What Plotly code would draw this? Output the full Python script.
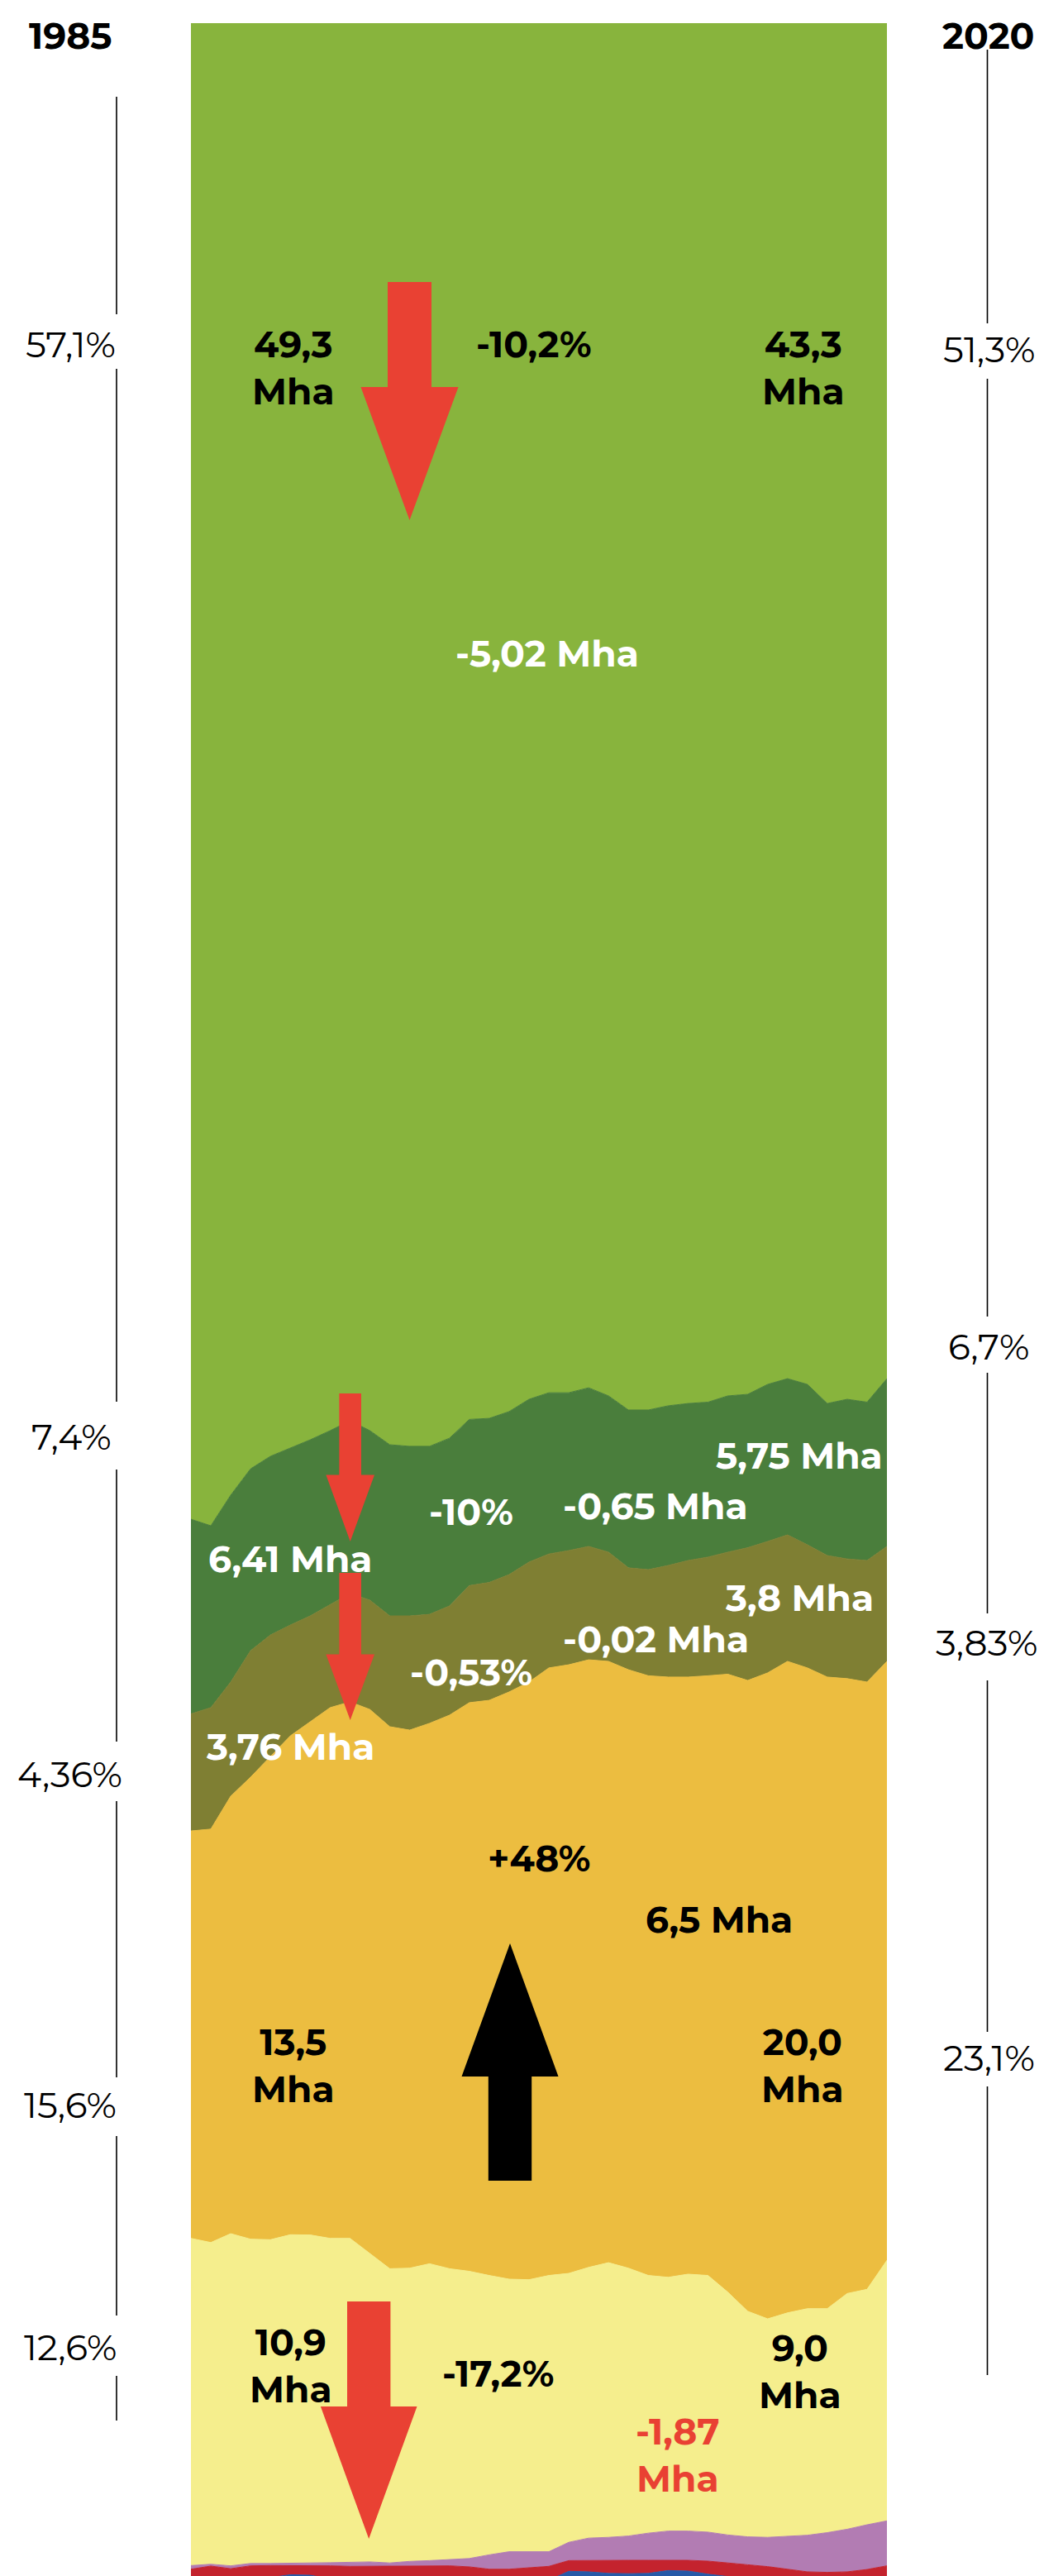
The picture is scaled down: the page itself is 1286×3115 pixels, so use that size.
import plotly.graph_objects as go

# Uso do solo, 1985-2020: participação acumulada (% da área) no topo de cada classe,
# lida de baixo para cima na pilha
anos = list(range(1985, 2021))

topo_agua = [2.15, 2.15, 2.15, 2.15, 2.25, 2.36, 2.34, 2.20, 2.20, 2.20, 2.20, 2.20,
             2.20, 2.20, 2.20, 2.20, 2.20, 2.20, 2.15, 2.49, 2.47, 2.41, 2.40, 2.41,
             2.52, 2.50, 2.38, 2.29, 2.20, 2.20, 2.20, 2.20, 2.20, 2.20, 2.20, 2.20]
topo_urbano = [2.57, 2.69, 2.59, 2.70, 2.71, 2.71, 2.72, 2.70, 2.68, 2.68, 2.68, 2.69,
               2.69, 2.70, 2.66, 2.57, 2.57, 2.62, 2.68, 2.90, 2.91, 2.91, 2.91, 2.91,
               2.91, 2.91, 2.88, 2.82, 2.74, 2.67, 2.56, 2.47, 2.45, 2.47, 2.56, 2.70]
topo_mosaico = [2.71, 2.76, 2.70, 2.79, 2.79, 2.79, 2.81, 2.82, 2.83, 2.85, 2.81, 2.87,
                2.90, 2.94, 2.98, 3.12, 3.24, 3.24, 3.24, 3.60, 3.76, 3.79, 3.84, 3.95,
                4.03, 4.03, 3.99, 3.88, 3.81, 3.79, 3.82, 3.87, 3.97, 4.10, 4.27, 4.42]
topo_pastagem = [15.23, 15.07, 15.41, 15.20, 15.18, 15.37, 15.36, 15.23, 15.23, 14.65,
                 14.07, 14.09, 14.26, 14.07, 13.97, 13.81, 13.67, 13.65, 13.81, 13.89,
                 14.12, 14.30, 14.09, 13.81, 13.74, 13.86, 13.81, 13.17, 12.44, 12.15,
                 12.38, 12.54, 12.54, 13.12, 13.28, 14.39]
topo_agricultura = [30.82, 30.89, 32.15, 32.88, 33.67, 34.46, 35.00, 35.54, 35.76, 35.47,
                    34.81, 34.68, 34.94, 35.25, 35.73, 35.82, 36.14, 36.52, 37.06, 37.18,
                    37.37, 37.31, 36.99, 36.76, 36.71, 36.71, 36.76, 36.82, 36.58, 36.87,
                    37.31, 37.06, 36.71, 36.65, 36.52, 37.31]
topo_campestre = [35.30, 35.54, 36.52, 37.72, 38.32, 38.70, 39.05, 39.49, 39.91, 39.65,
                  39.05, 39.05, 39.11, 39.43, 40.21, 40.33, 40.63, 41.11, 41.42, 41.55,
                  41.71, 41.49, 40.89, 40.82, 40.98, 41.17, 41.30, 41.49, 41.66, 41.90,
                  42.15, 41.77, 41.36, 41.23, 41.17, 41.71]
topo_savanica = [42.75, 42.50, 43.67, 44.68, 45.16, 45.47, 45.79, 46.14, 46.52, 46.14,
                 45.60, 45.54, 45.54, 45.85, 46.57, 46.61, 46.87, 47.34, 47.59, 47.59,
                 47.78, 47.47, 46.93, 46.93, 47.09, 47.18, 47.23, 47.47, 47.53, 47.91,
                 48.13, 47.91, 47.18, 47.34, 47.23, 48.13]
topo_florestal = [100.0] * len(anos)

camadas = [
    ("Água", topo_agua, "#2659A8"),
    ("Área urbana", topo_urbano, "#C4232E"),
    ("Mosaico", topo_mosaico, "#B27CB3"),
    ("Pastagem", topo_pastagem, "#F5EE8D"),
    ("Agricultura", topo_agricultura, "#ECBD40"),
    ("Formação campestre", topo_campestre, "#7F7F33"),
    ("Formação savânica", topo_savanica, "#4A7E3C"),
    ("Formação florestal", topo_florestal, "#88B43D"),
]

W, H = 1286, 3115
PL, PR, PT, PB = 231, 1073, 28, 3115
FONTE = "Montserrat, Open Sans, sans-serif"
VERMELHO = "#E94133"


def fx(px):
    return (px - PL) / (PR - PL)


def fy(py):
    return (PB - py) / (PB - PT)


fig = go.Figure()
for i, (nome, topo, cor) in enumerate(camadas):
    fig.add_trace(
        go.Scatter(
            x=anos,
            y=topo,
            name=nome,
            mode="lines",
            line=dict(color=cor, width=1),
            fill="tozeroy" if i == 0 else "tonexty",
            fillcolor=cor,
            hoverinfo="skip",
        )
    )


def seta(cx, meia_haste, base, cabeca, meia_cabeca, ponta, cor):
    caminho = (
        f"M {fx(cx - meia_haste)},{fy(base)} L {fx(cx + meia_haste)},{fy(base)} "
        f"L {fx(cx + meia_haste)},{fy(cabeca)} L {fx(cx + meia_cabeca)},{fy(cabeca)} "
        f"L {fx(cx)},{fy(ponta)} L {fx(cx - meia_cabeca)},{fy(cabeca)} "
        f"L {fx(cx - meia_haste)},{fy(cabeca)} Z"
    )
    fig.add_shape(type="path", xref="paper", yref="paper", path=caminho,
                  fillcolor=cor, line_width=0, layer="above")


seta(495.5, 26.5, 341, 468, 59, 629, VERMELHO)
seta(423.7, 13.3, 1685, 1783.5, 29.3, 1864, VERMELHO)
seta(423.7, 13.3, 1902, 2000.5, 29.3, 2080, VERMELHO)
seta(446.2, 26.2, 2783, 2910, 58.3, 3070, VERMELHO)
seta(617, 26.2, 2637, 2511, 58.5, 2350, "black")

# linhas-guia laterais, interrompidas nos rótulos
guias = [
    (141, [(117, 380), (446, 1695), (1777, 2106), (2178, 2512), (2583, 2800), (2873, 2927)]),
    (1194.5, [(60, 391), (458, 1592), (1660, 1951), (2032, 2457), (2523, 2872)]),
]
for gx, trechos in guias:
    for y0, y1 in trechos:
        fig.add_shape(type="line", xref="paper", yref="paper",
                      x0=fx(gx), x1=fx(gx), y0=fy(y0), y1=fy(y1),
                      line=dict(color="black", width=1.6))

rotulos = [
    ("<b>1985</b>", 85, 43, 44, "black"),
    ("<b>2020</b>", 1196, 43, 44, "black"),
    ("57,1%", 85, 416, 44, "black"),
    ("7,4%", 86, 1737, 44, "black"),
    ("4,36%", 84, 2145, 44, "black"),
    ("15,6%", 85, 2545, 44, "black"),
    ("12,6%", 85, 2838, 44, "black"),
    ("51,3%", 1196, 422, 44, "black"),
    ("6,7%", 1196, 1628, 44, "black"),
    ("3,83%", 1194, 1986, 44, "black"),
    ("23,1%", 1196, 2488, 44, "black"),
    ("<b>49,3<br>Mha</b>", 355, 444, 44, "black"),
    ("<b>-10,2%</b>", 646, 416, 44, "black"),
    ("<b>43,3<br>Mha</b>", 972, 444, 44, "black"),
    ("<b>-5,02 Mha</b>", 662, 790, 44, "white"),
    ("<b>6,41 Mha</b>", 351, 1885, 44, "white"),
    ("<b>-10%</b>", 570, 1828, 44, "white"),
    ("<b>3,76 Mha</b>", 351, 2112, 44, "white"),
    ("<b>-0,53%</b>", 570, 2022, 44, "white"),
    ("<b>5,75 Mha</b>", 967, 1760, 44, "white"),
    ("<b>-0,65 Mha</b>", 793, 1821, 44, "white"),
    ("<b>3,8 Mha</b>", 967, 1932, 44, "white"),
    ("<b>-0,02 Mha</b>", 793, 1982, 44, "white"),
    ("<b>+48%</b>", 652, 2247, 44, "black"),
    ("<b>6,5 Mha</b>", 870, 2321, 44, "black"),
    ("<b>13,5<br>Mha</b>", 355, 2497, 44, "black"),
    ("<b>20,0<br>Mha</b>", 971, 2497, 44, "black"),
    ("<b>10,9<br>Mha</b>", 352, 2860, 44, "black"),
    ("<b>-17,2%</b>", 602, 2870, 44, "black"),
    ("<b>9,0<br>Mha</b>", 968, 2867, 44, "black"),
    ("<b>-1,87<br>Mha</b>", 820, 2968, 44, VERMELHO),
]
for texto, x, y, tam, cor in rotulos:
    fig.add_annotation(
        xref="paper", yref="paper", x=fx(x), y=fy(y),
        text=texto, showarrow=False, xanchor="center", yanchor="middle",
        font=dict(family=FONTE, size=tam, color=cor),
    )

fig.update_layout(
    width=W,
    height=H,
    autosize=False,
    margin=dict(l=PL, r=W - PR, t=PT, b=H - PB, pad=0),
    paper_bgcolor="white",
    plot_bgcolor="white",
    showlegend=False,
    xaxis=dict(range=[1985, 2020], visible=False, fixedrange=True),
    yaxis=dict(range=[2.31, 100], visible=False, fixedrange=True),
)

# a página padrão tem margem de 8 px no body; zera para alinhar ao quadro
fig.write_html(
    "out.html",
    config={"displayModeBar": False},
    post_script="document.body.style.margin='0';document.body.style.overflow='hidden';",
)
